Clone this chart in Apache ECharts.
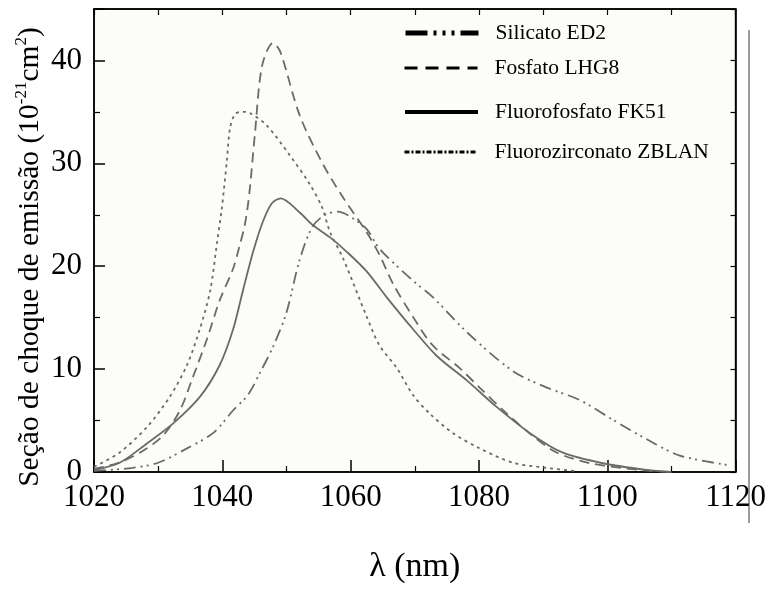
<!DOCTYPE html>
<html>
<head>
<meta charset="utf-8">
<script src="https://cdn.jsdelivr.net/npm/echarts@6/dist/echarts.min.js"></script>
<style>
  html, body { margin: 0; padding: 0; background: #ffffff; }
  #chart { width: 769px; height: 589px; }
</style>
</head>
<body>
<div id="chart"></div>
<script>
// Emission cross-section spectra of four Nd-doped glasses (wavelength in nm, sigma in 1e-21 cm^2)
const seriesNames = ['Silicato ED2', 'Fosfato LHG8', 'Fluorofosfato FK51', 'Fluorozirconato ZBLAN'];

const silicatoX = [1020, 1026, 1030, 1034.5, 1038.6, 1041.7, 1044, 1046, 1048, 1050, 1052, 1054, 1056, 1058, 1060, 1062.5, 1064.5, 1069.7, 1072.8, 1078.1, 1085.3, 1090.6, 1095.7, 1100.8, 1106.1, 1111.3, 1118.6];
const silicatoY = [0.1, 0.4, 0.9, 2.3, 3.8, 6.0, 7.5, 9.8, 12.3, 15.5, 20.5, 23.8, 25.0, 25.3, 24.8, 23.6, 21.7, 18.6, 17.0, 13.6, 9.8, 8.2, 7.0, 5.1, 3.2, 1.6, 0.7];

const fosfatoX = [1020, 1023.6, 1027.2, 1030.7, 1033.4, 1035.4, 1037.6, 1039.6, 1041.7, 1042.7, 1043.5, 1044.2, 1045.1, 1046.2, 1047.9, 1049, 1052.1, 1055.7, 1059, 1062.5, 1064.5, 1066.6, 1069.7, 1072.8, 1077, 1080.1, 1084.3, 1088.4, 1092.1, 1097.3, 1105, 1110];
const fosfatoY = [0.3, 0.85, 1.9, 3.5, 6.0, 9.2, 12.9, 16.7, 19.8, 22.0, 24.0, 27.0, 33.0, 39.5, 41.7, 40.9, 34.6, 29.9, 26.5, 23.3, 21.1, 18.3, 15.1, 12.3, 10.1, 8.2, 5.7, 3.5, 1.9, 0.85, 0.2, 0];

const fk51X = [1020, 1024, 1028.3, 1032.3, 1036.5, 1039.6, 1041.7, 1043.2, 1044.8, 1046.3, 1047.7, 1049.1, 1052.1, 1054.1, 1056.8, 1059.4, 1062.5, 1065.6, 1069.7, 1073.4, 1078.1, 1082.8, 1087.9, 1093, 1099.3, 1106.1, 1110];
const fk51Y = [0.2, 0.9, 2.8, 4.7, 7.3, 10.4, 13.9, 17.6, 21.4, 24.3, 26.1, 26.6, 25.2, 24.0, 22.8, 21.4, 19.5, 17.0, 13.9, 11.3, 8.9, 6.3, 3.8, 1.9, 0.85, 0.2, 0];

const zblanX = [1020, 1024, 1028.3, 1031.8, 1034.5, 1036.5, 1038.1, 1039.2, 1039.9, 1040.7, 1041.2, 1042, 1043.2, 1044.3, 1046.9, 1050.5, 1053.6, 1055.5, 1056.8, 1058.8, 1062.5, 1064.5, 1067.2, 1069.7, 1072.3, 1075.9, 1080.1, 1085.3, 1090.6, 1095];
const zblanY = [0.5, 1.9, 4.4, 7.3, 10.4, 13.9, 17.6, 22.4, 25.5, 30.2, 33.4, 34.8, 35.0, 34.9, 33.7, 30.8, 28.0, 25.8, 23.3, 20.8, 15.1, 12.3, 10.1, 7.5, 5.7, 3.8, 2.3, 0.9, 0.4, 0.1];

const xTicks = { min: 1020, max: 1120, step: 20 };
const yTicks = { min: 0, max: 45, step: 10 };

const FONT = 'Liberation Serif';
const CURVE = '#6a6a6a';

function pairs(xs, ys) { return xs.map((x, i) => [x, ys[i]]); }

function curve(name, xs, ys, type) {
  return {
    name, type: 'line', xAxisIndex: 0, yAxisIndex: 0,
    data: pairs(xs, ys), symbol: 'none', showSymbol: false,
    smooth: 0.3,
    lineStyle: { color: CURVE, width: 1.8, type },
    itemStyle: { color: CURVE },
    z: 3
  };
}

// One legend block per row so the row spacing can follow the layout
function legendRow(name, centerY, lineStyle) {
  return {
    left: 403, top: centerY - 11, padding: 0, selectedMode: false,
    itemWidth: 73, itemHeight: 22,
    itemStyle: { opacity: 0, borderWidth: 0 },
    data: [{ name, lineStyle, itemStyle: { opacity: 0, borderWidth: 0 } }],
    textStyle: { fontFamily: FONT, fontSize: 21.5, color: '#000', padding: [0, 0, 0, 12] }
  };
}

const chart = echarts.init(document.getElementById('chart'), null, { renderer: 'canvas' });

chart.setOption({
  animation: false,
  backgroundColor: '#ffffff',
  grid: {
    left: 94, right: 33, top: 9, bottom: 102,
    show: true, backgroundColor: '#fcfcf9', borderColor: '#000', borderWidth: 1.5
  },
  xAxis: [{
    type: 'value', position: 'bottom',
    min: xTicks.min, max: xTicks.max, interval: xTicks.step,
    name: 'λ (nm)', nameLocation: 'middle', nameGap: 78,
    nameTextStyle: { fontFamily: FONT, fontSize: 34, color: '#000' },
    axisLine: { show: true, onZero: false, lineStyle: { color: '#000', width: 1.5 } },
    axisTick: { inside: true, length: 12, lineStyle: { color: '#000', width: 1.5 } },
    minorTick: { show: true, splitNumber: 2, length: 6, lineStyle: { color: '#000', width: 1.2 } },
    axisLabel: { fontFamily: FONT, fontSize: 31, color: '#000', margin: 10, formatter: v => String(v) },
    splitLine: { show: false }
  }, {
    type: 'value', position: 'top',
    min: xTicks.min, max: xTicks.max, interval: xTicks.step / 2,
    axisLine: { show: true, onZero: false, lineStyle: { color: '#000', width: 1.5 } },
    axisTick: { inside: true, length: 6, lineStyle: { color: '#000', width: 1.2 } },
    axisLabel: { show: false },
    splitLine: { show: false }
  }],
  yAxis: [{
    type: 'value', position: 'left',
    min: yTicks.min, max: yTicks.max, interval: yTicks.step,
    axisLine: { show: true, onZero: false, lineStyle: { color: '#000', width: 1.5 } },
    axisTick: { inside: true, length: 11, lineStyle: { color: '#000', width: 1.5 } },
    minorTick: { show: true, splitNumber: 2, length: 6, lineStyle: { color: '#000', width: 1.2 } },
    axisLabel: { fontFamily: FONT, fontSize: 31, color: '#000', margin: 12, showMaxLabel: false },
    splitLine: { show: false }
  }, {
    type: 'value', position: 'right',
    min: yTicks.min, max: yTicks.max, interval: yTicks.step / 2,
    axisLine: { show: true, onZero: false, lineStyle: { color: '#000', width: 1.5 } },
    axisTick: { inside: true, length: 5, lineStyle: { color: '#000', width: 1.2 } },
    axisLabel: { show: false },
    splitLine: { show: false }
  }],
  legend: [
    legendRow(seriesNames[0], 33, { color: '#000', width: 5, type: [22, 6, 3, 6, 3, 6, 3, 6] }),
    legendRow(seriesNames[1], 68, { color: '#000', width: 3, type: [13, 8] }),
    legendRow(seriesNames[2], 112, { color: '#000', width: 4, type: 'solid' }),
    legendRow(seriesNames[3], 152, { color: '#000', width: 3, type: [5, 2, 2, 2] })
  ],
  series: [
    curve(seriesNames[0], silicatoX, silicatoY, [12, 5, 2, 4, 2, 5]),
    curve(seriesNames[1], fosfatoX, fosfatoY, [10, 6]),
    curve(seriesNames[2], fk51X, fk51Y, 'solid'),
    curve(seriesNames[3], zblanX, zblanY, [3, 4])
  ],
  graphic: [{
    type: 'text', x: 30, y: 257, rotation: Math.PI / 2,
    style: {
      text: '{a|Seção de choque de emissão (10}{s|-21}{a|cm}{s|2}{a|)}',
      align: 'center', verticalAlign: 'middle',
      rich: {
        a: { fontFamily: FONT, fontSize: 29.5, fill: '#000', color: '#000', lineHeight: 34 },
        s: { fontFamily: FONT, fontSize: 17, fill: '#000', color: '#000', verticalAlign: 'top', lineHeight: 34 }
      }
    }
  }, {
    type: 'line', shape: { x1: 749, y1: 30, x2: 749, y2: 523 },
    style: { stroke: '#9a9a9a', lineWidth: 2 }
  }]
});
</script>
</body>
</html>
